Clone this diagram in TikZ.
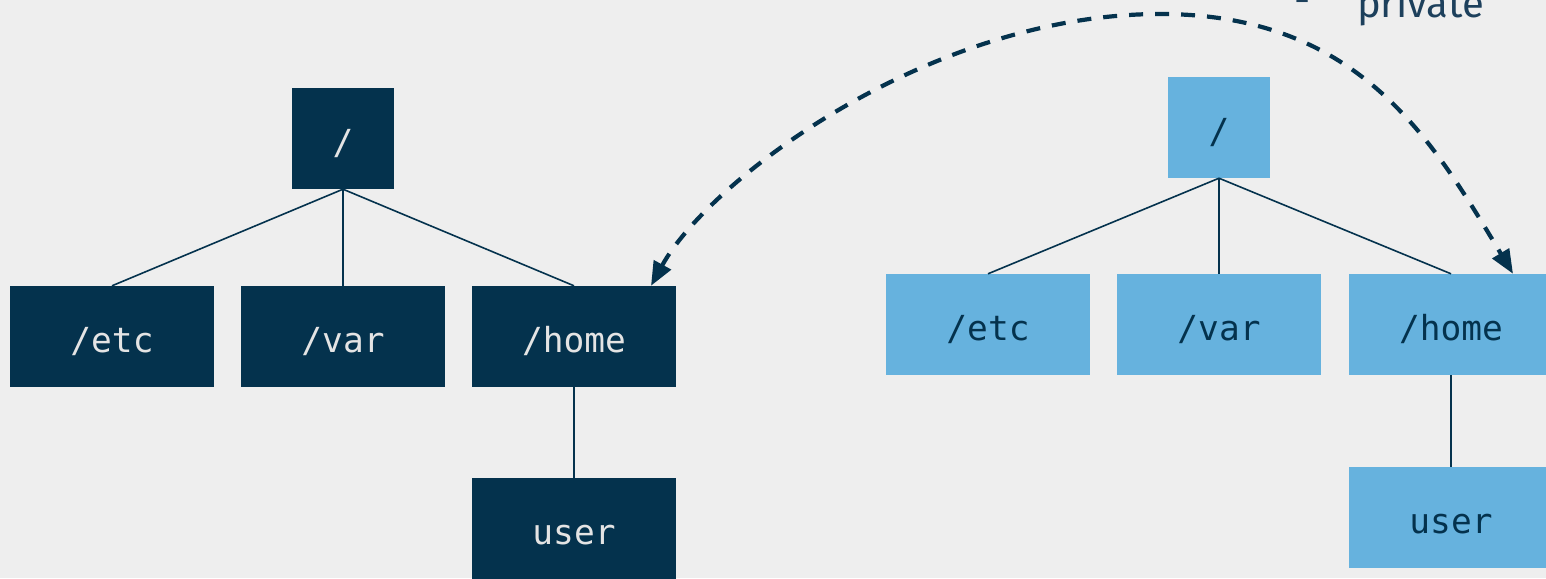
\documentclass[tikz,border=0pt]{standalone}
\usepackage{fontspec}
\newfontfamily\codefont{DejaVu Sans Mono}
\newfontfamily\notefont{Fira Sans}
\usetikzlibrary{arrows.meta}
\definecolor{navy}{HTML}{04324D}
\definecolor{sky}{HTML}{66B2DE}
\definecolor{paper}{HTML}{EEEEEE}
\definecolor{paletext}{HTML}{E4E4E4}
\definecolor{notecol}{HTML}{1D405C}
\tikzset{
  dirbox/.style={rectangle, inner sep=0pt, minimum width=204pt, minimum height=101pt,
    text height=31pt, text depth=0pt,
    font=\codefont\fontsize{34.5}{40}\selectfont},
  rootbox/.style={dirbox, minimum width=102pt},
  hostdir/.style={fill=navy, text=paletext},
  guestdir/.style={fill=sky, text=navy},
  treeline/.style={draw=navy, line width=1.6pt},
  mountarrow/.style={draw=navy, line width=4.2pt, dash pattern=on 14pt off 12pt,
    {Triangle[length=24pt,width=19pt]}-{Triangle[length=24pt,width=19pt]}},
  notetext/.style={font=\notefont\fontsize{40}{44}\selectfont, text=notecol,
    anchor=base west, inner sep=0pt},
}
\begin{document}
\begin{tikzpicture}[x=1pt,y=-1pt]
  \fill[paper] (0,0) rectangle (1546,578);
  \useasboundingbox (0,0) rectangle (1546,578);
  \clip (0,0) rectangle (1546,578);

  % host tree
  \node[rootbox,hostdir] (lroot) at (343,138.5) {/};
  \node[dirbox,hostdir] (letc)  at (112,336.5) {/etc};
  \node[dirbox,hostdir] (lvar)  at (343,336.5) {/var};
  \node[dirbox,hostdir] (lhome) at (574,336.5) {/home};
  \node[dirbox,hostdir] (luser) at (574,528.5) {user};
  \draw[treeline] (lroot.south) -- (letc.north);
  \draw[treeline] (lroot.south) -- (lvar.north);
  \draw[treeline] (lroot.south) -- (lhome.north);
  \draw[treeline] (lhome.south) -- (luser.north);

  % container tree
  \node[rootbox,guestdir] (rroot) at (1219,127.5) {/};
  \node[dirbox,guestdir] (retc)  at (988,324.5) {/etc};
  \node[dirbox,guestdir] (rvar)  at (1219,324.5) {/var};
  \node[dirbox,guestdir] (rhome) at (1451,324.5) {/home};
  \node[dirbox,guestdir] (ruser) at (1451,517.5) {user};
  \draw[treeline] (rroot.south) -- (retc.north);
  \draw[treeline] (rroot.south) -- (rvar.north);
  \draw[treeline] (rroot.south) -- (rhome.north);
  \draw[treeline] (rhome.south) -- (ruser.north);

  % bind mount between the two home directories
  \coordinate (apex) at (1160,14);
  \draw[mountarrow] ([xshift=77pt]lhome.north)
    .. controls (709,180) and (930,14) .. (apex)
    .. controls (1360,14) and (1433,141) .. ([xshift=62pt]rhome.north);

  % note
  \node[notetext] (dash) at (1294,14) {-};
  \node[notetext] (priv) at (1357,18) {private};
\end{tikzpicture}
\end{document}
